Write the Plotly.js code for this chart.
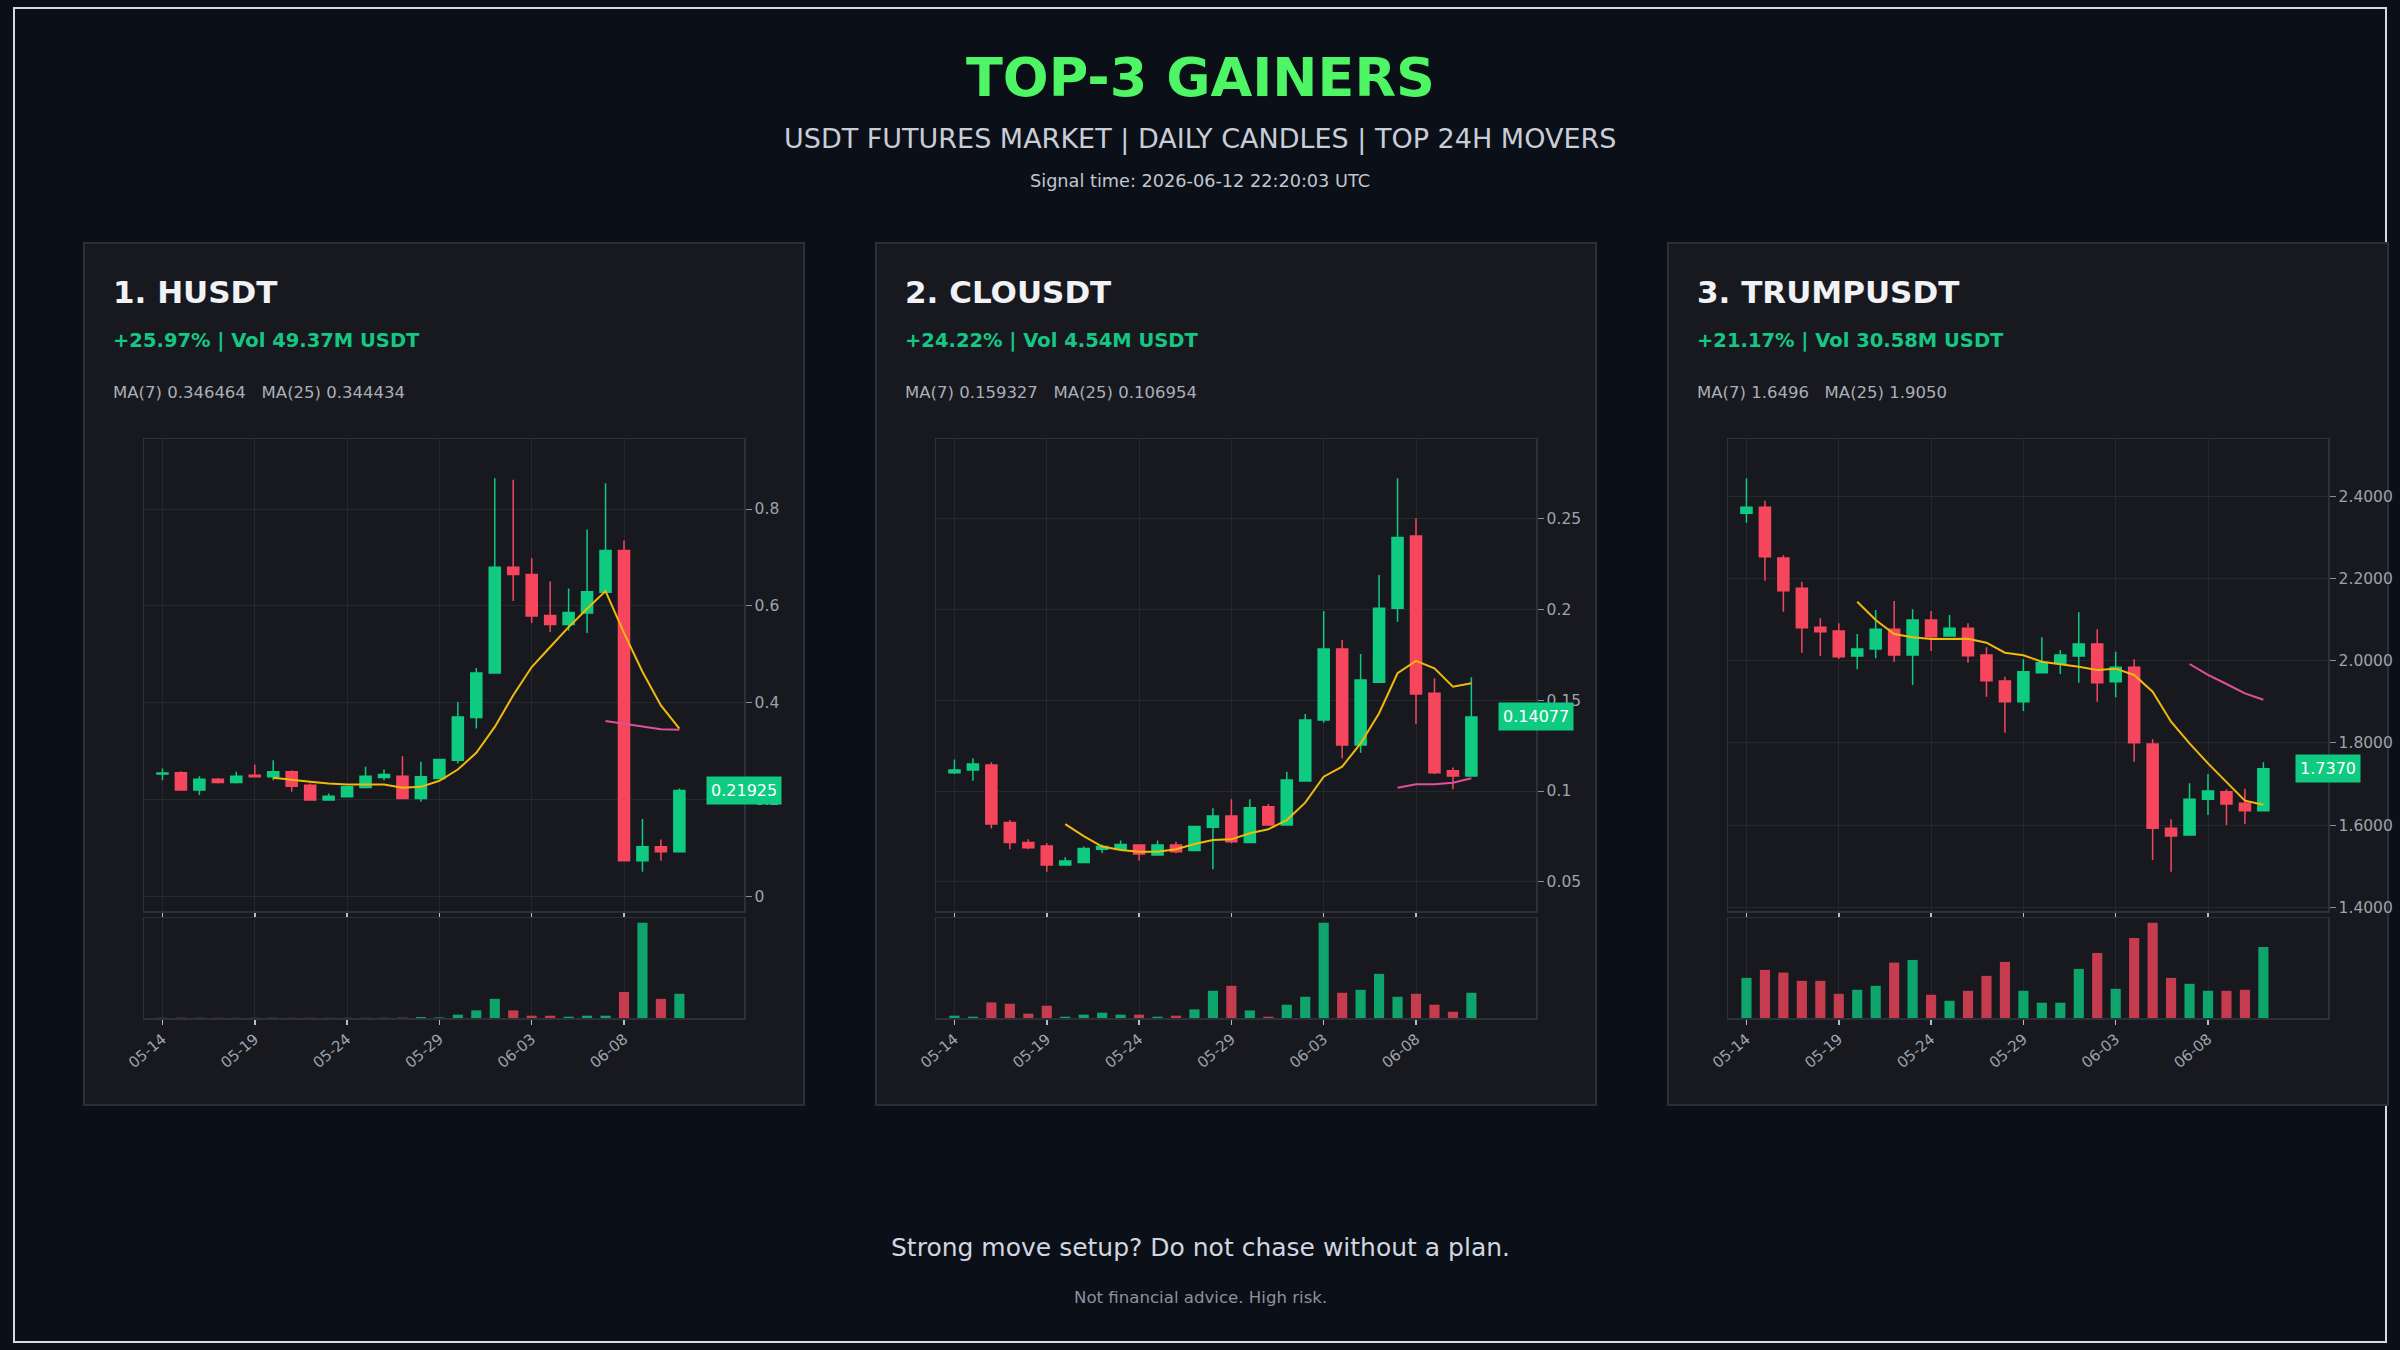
<!DOCTYPE html>
<html><head><meta charset="utf-8">
<script src="https://cdn.plot.ly/plotly-3.0.1.min.js"></script>
<style>html,body{margin:0;padding:0;background:#0b0f17;} #chart{width:2400px;height:1350px;}</style>
</head><body><div id="chart"></div>
<script>
// ---------- DATA ----------
const dates = ['2026-05-14','2026-05-15','2026-05-16','2026-05-17','2026-05-18','2026-05-19','2026-05-20','2026-05-21','2026-05-22','2026-05-23','2026-05-24','2026-05-25','2026-05-26','2026-05-27','2026-05-28','2026-05-29','2026-05-30','2026-05-31','2026-06-01','2026-06-02','2026-06-03','2026-06-04','2026-06-05','2026-06-06','2026-06-07','2026-06-08','2026-06-09','2026-06-10','2026-06-11'];
const tickDates = ['2026-05-14','2026-05-19','2026-05-24','2026-05-29','2026-06-03','2026-06-08'];
const tickLabels = ['05-14','05-19','05-24','05-29','06-03','06-08'];

const mainTitle = 'TOP-3 GAINERS';
const subTitle = 'USDT FUTURES MARKET | DAILY CANDLES | TOP 24H MOVERS';
const signalText = 'Signal time: 2026-06-12 22:20:03 UTC';
const footerMain = 'Strong move setup? Do not chase without a plan.';
const footerNote = 'Not financial advice. High risk.';

const symbols = ['1. HUSDT', '2. CLOUSDT', '3. TRUMPUSDT'];
const changeLabels = ['+25.97% | Vol 49.37M USDT', '+24.22% | Vol 4.54M USDT', '+21.17% | Vol 30.58M USDT'];
const ma7Labels = ['MA(7) 0.346464', 'MA(7) 0.159327', 'MA(7) 1.6496'];
const ma25Labels = ['MA(25) 0.344434', 'MA(25) 0.106954', 'MA(25) 1.9050'];
const lastPriceLabels = ['0.21925', '0.14077', '1.7370'];

// HUSDT
const hOpen  = [0.2530,0.2555,0.2198,0.2424,0.2356,0.2507,0.2473,0.2576,0.2300,0.1992,0.2060,0.2253,0.2459,0.2486,0.2026,0.2438,0.2816,0.3695,0.4615,0.6800,0.6648,0.5803,0.5618,0.5852,0.6284,0.7143,0.0742,0.1030,0.0927];
const hHigh  = [0.2644,0.2590,0.2486,0.2450,0.2576,0.2727,0.2816,0.2610,0.2335,0.2130,0.2280,0.2679,0.2624,0.2898,0.2782,0.2840,0.4018,0.4718,0.8633,0.8606,0.6985,0.6504,0.6360,0.7576,0.8530,0.7349,0.1600,0.1180,0.2232];
const hLow   = [0.2400,0.2190,0.2095,0.2335,0.2335,0.2466,0.2404,0.2163,0.1985,0.1985,0.2050,0.2232,0.2404,0.2015,0.1957,0.2430,0.2747,0.3468,0.4615,0.6099,0.5646,0.5460,0.5495,0.5440,0.6280,0.0742,0.0515,0.0742,0.0927];
const hClose = [0.2550,0.2198,0.2424,0.2356,0.2486,0.2473,0.2576,0.2280,0.1992,0.2074,0.2266,0.2486,0.2520,0.2026,0.2473,0.2830,0.3709,0.4615,0.6800,0.6648,0.5790,0.5618,0.5865,0.6291,0.7143,0.0742,0.1030,0.0927,0.21925];
const hMA7   = [null,null,null,null,null,null,0.2452,0.2404,0.2370,0.2335,0.2315,0.2315,0.2315,0.2246,0.2266,0.2390,0.2624,0.2967,0.3503,0.4155,0.4739,0.5151,0.5563,0.5941,0.6305,0.5442,0.4640,0.3945,0.3465];
const hMA25  = [null,null,null,null,null,null,null,null,null,null,null,null,null,null,null,null,null,null,null,null,null,null,null,null,0.3626,0.3571,0.3516,0.3455,0.3444];
const hVol   = [0.4,0.5,0.4,0.3,0.3,0.4,0.5,0.4,0.5,0.3,0.3,0.4,0.4,0.8,2.0,1.2,6.8,15.5,39.0,15.5,4.7,4.7,2.7,4.7,4.7,53.0,194.0,39.0,49.37];

// CLOUSDT
const cOpen  = [0.1101,0.1116,0.1143,0.0826,0.0717,0.0697,0.0593,0.0607,0.0679,0.0679,0.0703,0.0648,0.0703,0.0672,0.0800,0.0862,0.0716,0.0914,0.0813,0.1055,0.1391,0.1782,0.1253,0.1598,0.2006,0.2404,0.1538,0.1112,0.1083];
const cHigh  = [0.1174,0.1180,0.1158,0.0840,0.0734,0.0712,0.0635,0.0694,0.0706,0.0728,0.0703,0.0727,0.0721,0.0808,0.0905,0.0954,0.0954,0.0928,0.1106,0.1424,0.1991,0.1831,0.1754,0.2189,0.2721,0.2501,0.1620,0.1130,0.1626];
const cLow   = [0.1094,0.1057,0.0794,0.0679,0.0679,0.0556,0.0593,0.0607,0.0657,0.0679,0.0617,0.0648,0.0657,0.0672,0.0569,0.0712,0.0716,0.0813,0.0813,0.1055,0.1376,0.1180,0.1211,0.1598,0.1932,0.1369,0.1094,0.1009,0.1083];
const cClose = [0.1116,0.1149,0.0818,0.0716,0.0688,0.0593,0.0615,0.0684,0.0694,0.0706,0.0653,0.0703,0.0666,0.0804,0.0862,0.0721,0.0908,0.0813,0.1061,0.1391,0.1782,0.1253,0.1611,0.2006,0.2396,0.1534,0.1101,0.1083,0.14077];
const cMA7   = [null,null,null,null,null,null,0.0818,0.0752,0.0694,0.0675,0.0666,0.0666,0.0679,0.0708,0.0730,0.0734,0.0767,0.0789,0.0840,0.0936,0.1079,0.1134,0.1262,0.1428,0.1648,0.1716,0.1675,0.1574,0.1593];
const cMA25  = [null,null,null,null,null,null,null,null,null,null,null,null,null,null,null,null,null,null,null,null,null,null,null,null,0.1018,0.1037,0.1037,0.1046,0.1070];
const cVol   = [0.42,0.24,2.81,2.57,0.78,2.21,0.24,0.60,0.96,0.60,0.60,0.24,0.42,1.55,4.90,5.79,1.37,0.24,2.39,3.82,17.13,4.54,5.07,7.94,3.82,4.36,2.39,1.13,4.54];

// TRUMPUSDT
const tOpen  = [2.3582,2.3728,2.2496,2.1758,2.0810,2.0721,2.0113,2.0284,2.0762,2.0138,2.0989,2.0599,2.0786,2.0138,1.9506,1.9003,1.9708,1.9935,2.0113,2.0405,1.9489,1.9838,1.7974,1.5924,1.5762,1.6629,1.6815,1.6532,1.6353];
const tHigh  = [2.4433,2.3890,2.2561,2.1920,2.1029,2.0908,2.0648,2.1232,2.1451,2.1248,2.1207,2.1110,2.0908,2.0324,1.9611,2.0032,2.0567,2.0259,2.1175,2.0762,2.0219,2.0032,1.8087,1.6143,1.7018,1.7245,1.6872,1.6888,1.7528];
const tLow   = [2.3355,2.1945,2.1191,2.0194,2.0113,2.0040,1.9789,2.0057,1.9976,1.9408,2.0235,2.0599,1.9951,1.9125,1.8250,1.8776,1.9708,1.9676,1.9465,1.9003,1.9109,1.7545,1.5154,1.4870,1.5737,1.6248,1.6005,1.6029,1.6353];
const tClose = [2.3728,2.2528,2.1702,2.0802,2.0705,2.0097,2.0284,2.0762,2.0138,2.0989,2.0583,2.0786,2.0122,1.9514,1.9003,1.9733,1.9951,2.0138,2.0405,1.9465,1.9838,1.8006,1.5924,1.5737,1.6629,1.6831,1.6515,1.6353,1.7370];
const tMA7   = [null,null,null,null,null,null,2.1434,2.0989,2.0648,2.0567,2.0527,2.0535,2.0535,2.0438,2.0194,2.0130,1.9976,1.9911,1.9854,1.9773,1.9806,1.9652,1.9246,1.8517,1.7990,1.7504,1.7058,1.6596,1.6496];
const tMA25  = [null,null,null,null,null,null,null,null,null,null,null,null,null,null,null,null,null,null,null,null,null,null,null,null,1.9919,1.9652,1.9433,1.9206,1.9050];
const tVol   = [17.29,20.72,19.58,16.00,16.00,10.43,12.15,13.86,23.86,25.01,10.00,7.43,11.72,18.15,24.15,11.72,6.57,6.57,21.15,28.01,12.58,34.44,41.01,17.29,14.72,11.72,11.72,12.15,30.58];

const yTickFormats = ['', '', '.4f'];
const yDticks = [0.2, 0.05, 0.2];

// ---------- STYLE ----------
const UP = '#0ecb81', DOWN = '#f6465d';
const MA7C = '#f0b90b', MA25C = '#e0509a';
const BG = '#0b0f17', PANEL = '#17191f', PANEL_LINE = '#2b2f37';
const GRID = '#25282f', FRAME = '#2c3038', TICKTXT = '#9ea3ad';
const FONT = 'DejaVu Sans';
const W = 2400, H = 1350;
const px = v => v / W, py = v => 1 - v / H;
const DAY = 86400000;

const charts = [
  {o:hOpen,h:hHigh,l:hLow,c:hClose,ma7:hMA7,ma25:hMA25,v:hVol},
  {o:cOpen,h:cHigh,l:cLow,c:cClose,ma7:cMA7,ma25:cMA25,v:cVol},
  {o:tOpen,h:tHigh,l:tLow,c:tClose,ma7:tMA7,ma25:tMA25,v:tVol}
];
const panelX = [84, 876, 1668];
const panelW = 720, panelTop = 243, panelBottom = 1105;
const plotTop = 439, plotBot = 911, volTop = 918, volBot = 1018;

const traces = [];
const layout = {
  width: W, height: H,
  margin: {l:0, r:0, t:0, b:0},
  paper_bgcolor: BG, plot_bgcolor: 'rgba(0,0,0,0)',
  font: {family: FONT, color: TICKTXT},
  showlegend: false,
  boxgap: 0.4, boxgroupgap: 0,
  shapes: [], annotations: []
};

// outer frame
layout.shapes.push({type:'rect', xref:'paper', yref:'paper', x0:px(14), x1:px(2386), y0:py(1342), y1:py(8),
  line:{color:'#d5d9e2', width:2}, fillcolor:'rgba(0,0,0,0)', layer:'below'});

charts.forEach((d, i) => {
  const n1 = 2*i + 1, n2 = 2*i + 2;
  const xk1 = n1 === 1 ? 'x' : 'x' + n1, yk1 = n1 === 1 ? 'y' : 'y' + n1;
  const xk2 = 'x' + n2, yk2 = 'y' + n2;
  const xa1 = n1 === 1 ? 'xaxis' : 'xaxis' + n1, ya1 = n1 === 1 ? 'yaxis' : 'yaxis' + n1;
  const xa2 = 'xaxis' + n2, ya2 = 'yaxis' + n2;
  const x0 = panelX[i];
  const plotL = x0 + 60, plotR = plotL + 600;

  layout.shapes.push({type:'rect', xref:'paper', yref:'paper', x0:px(x0), x1:px(x0+panelW), y0:py(panelBottom), y1:py(panelTop),
    line:{color:PANEL_LINE, width:2}, fillcolor:PANEL, layer:'below'});

  traces.push({type:'candlestick', x:dates, open:d.o, high:d.h, low:d.l, close:d.c, xaxis:xk1, yaxis:yk1,
    increasing:{line:{color:UP, width:1.5}, fillcolor:UP},
    decreasing:{line:{color:DOWN, width:1.5}, fillcolor:DOWN},
    whiskerwidth:0, hoverinfo:'skip'});
  traces.push({type:'scatter', mode:'lines', x:dates, y:d.ma7, xaxis:xk1, yaxis:yk1,
    line:{color:MA7C, width:2}, connectgaps:false, hoverinfo:'skip'});
  traces.push({type:'scatter', mode:'lines', x:dates, y:d.ma25, xaxis:xk1, yaxis:yk1,
    line:{color:MA25C, width:2}, connectgaps:false, hoverinfo:'skip'});
  traces.push({type:'bar', x:dates, y:d.v, xaxis:xk2, yaxis:yk2,
    marker:{color:d.c.map((c, k) => c >= d.o[k] ? UP : DOWN), line:{width:0}},
    opacity:0.78, width:0.55*DAY, hoverinfo:'skip'});

  const lo = Math.min(...d.l), hi = Math.max(...d.h), pad = 0.1*(hi - lo);
  const xr = ['2026-05-13 00:00', '2026-06-14 12:00'];
  const commonX = {type:'date', range:xr, tickmode:'array', tickvals:tickDates, ticktext:tickLabels,
    showgrid:true, gridcolor:GRID, gridwidth:1, zeroline:false,
    ticks:'outside', ticklen:5, tickcolor:'#b8bcc4', tickwidth:1.5,
    showline:true, mirror:true, linecolor:FRAME, linewidth:1.5,
    rangeslider:{visible:false}, fixedrange:true};

  layout[xa1] = Object.assign({}, commonX, {domain:[px(plotL), px(plotR)], anchor:yk1, showticklabels:false});
  layout[xa2] = Object.assign({}, commonX, {domain:[px(plotL), px(plotR)], anchor:yk2, showticklabels:true,
    tickangle:-40, tickfont:{size:15, color:TICKTXT}});

  layout[ya1] = {domain:[py(plotBot), py(plotTop)], anchor:xk1, side:'right', range:[lo - pad, hi + pad],
    dtick:yDticks[i], tickformat:yTickFormats[i], showgrid:true, gridcolor:GRID, gridwidth:1, zeroline:false,
    ticks:'outside', ticklen:6, tickcolor:'#8a8f99', tickfont:{size:15.5, color:TICKTXT},
    showline:true, mirror:true, linecolor:FRAME, linewidth:1.5, fixedrange:true};
  layout[ya2] = {domain:[py(volBot), py(volTop)], anchor:xk2, range:[0, Math.max(...d.v)*1.05],
    showticklabels:false, showgrid:false, zeroline:false, ticks:'',
    showline:true, mirror:true, linecolor:FRAME, linewidth:1.5, fixedrange:true};

  // panel texts
  const tx = px(x0 + 27);
  layout.annotations.push({xref:'paper', yref:'paper', x:tx, y:py(292), xanchor:'left', yanchor:'middle', showarrow:false,
    text:'<b>' + symbols[i] + '</b>', font:{family:FONT, size:31, color:'#f0f2f5'}});
  layout.annotations.push({xref:'paper', yref:'paper', x:tx, y:py(340.5), xanchor:'left', yanchor:'middle', showarrow:false,
    text:'<b>' + changeLabels[i] + '</b>', font:{family:FONT, size:19.5, color:'#16c784'}});
  layout.annotations.push({xref:'paper', yref:'paper', x:tx, y:py(392), xanchor:'left', yanchor:'middle', showarrow:false,
    text:ma7Labels[i] + '&nbsp;&nbsp;&nbsp;' + ma25Labels[i], font:{family:FONT, size:16.5, color:'#a9aeb8'}});
  // last price label
  layout.annotations.push({xref:'paper', yref:yk1, x:px(plotR), y:d.c[d.c.length-1], xanchor:'center', yanchor:'middle',
    showarrow:false, text:lastPriceLabels[i], bgcolor:UP, borderpad:4,
    font:{family:FONT, size:16, color:'#ffffff'}});
});

// headline texts
layout.annotations.push({xref:'paper', yref:'paper', x:0.5, y:py(77.5), xanchor:'center', yanchor:'middle', showarrow:false,
  text:'<b>' + mainTitle + '</b>', font:{family:FONT, size:54, color:'#4ef565'}});
layout.annotations.push({xref:'paper', yref:'paper', x:0.5, y:py(139.5), xanchor:'center', yanchor:'middle', showarrow:false,
  text:subTitle, font:{family:FONT, size:27, color:'#c9cdd8'}});
layout.annotations.push({xref:'paper', yref:'paper', x:0.5, y:py(181), xanchor:'center', yanchor:'middle', showarrow:false,
  text:signalText, font:{family:FONT, size:17.7, color:'#c2c6ce'}});
layout.annotations.push({xref:'paper', yref:'paper', x:0.5, y:py(1247.5), xanchor:'center', yanchor:'middle', showarrow:false,
  text:footerMain, font:{family:FONT, size:25, color:'#d2d6e0'}});
layout.annotations.push({xref:'paper', yref:'paper', x:0.5, y:py(1297.5), xanchor:'center', yanchor:'middle', showarrow:false,
  text:footerNote, font:{family:FONT, size:16.6, color:'#8c919d'}});

Plotly.newPlot('chart', traces, layout, {displayModeBar:false, staticPlot:true});
</script>
</body></html>
